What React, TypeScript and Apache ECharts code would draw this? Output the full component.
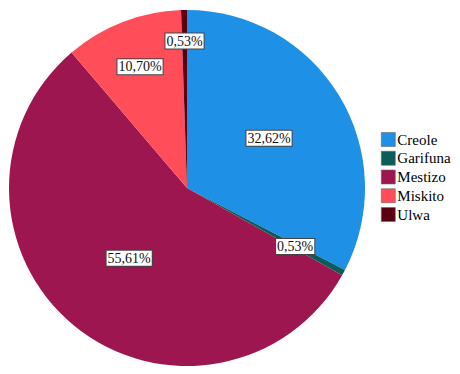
import React, { useEffect, useRef } from "react";
import * as echarts from "echarts";

const categories = ["Creole", "Garifuna", "Mestizo", "Miskito", "Ulwa"];
const counts = [61, 1, 104, 20, 1];
const percentLabels = ["32,62%", "0,53%", "55,61%", "10,70%", "0,53%"];
const colors = ["#1E90E6", "#0B5C5A", "#9E1650", "#FF4D5A", "#5A0010"];
// distance of each label box from pie centre (px)
const labelDist = [93, 120, 88, 127, 144];

const CENTER: [number, number] = [187, 188];
const RADIUS = 178;
const FONT = "Liberation Serif";

export default function App() {
  const ref = useRef<HTMLDivElement>(null);
  useEffect(() => {
    document.body.style.margin = "0";
    const chart = echarts.init(ref.current!, null, { renderer: "svg" });
    const data = categories.map((name, i) => ({
      name,
      value: counts[i],
      itemStyle: { color: colors[i] },
    }));
    const labelSeries = categories.map((_, k) => ({
      type: "pie",
      center: CENTER,
      radius: [0, labelDist[k] * 2],
      startAngle: 90,
      clockwise: true,
      silent: true,
      avoidLabelOverlap: false,
      emphasis: { disabled: true },
      itemStyle: { color: "transparent", borderWidth: 0 },
      labelLine: { show: false },
      data: categories.map((name, i) => ({
        name,
        value: counts[i],
        itemStyle: { color: "transparent" },
        label: {
          show: i === k,
          position: "inside",
          formatter: percentLabels[i],
          fontFamily: FONT,
          fontSize: 14,
          color: "#111",
          backgroundColor: "#fff",
          borderColor: "#444",
          borderWidth: 1,
          padding: [1, 1, 0, 1],
        },
      })),
    }));
    chart.setOption({
      animation: false,
      backgroundColor: "#fff",
      textStyle: { fontFamily: FONT },
      legend: {
        orient: "vertical",
        left: 381,
        top: 132,
        padding: 0,
        icon: "rect",
        itemWidth: 14,
        itemHeight: 14,
        itemGap: 3.75,
        data: categories,
        textStyle: {
          fontFamily: FONT,
          fontSize: 15,
          lineHeight: 14,
          color: "#000",
          padding: [0, 0, 0, -3],
        },
        itemStyle: { borderColor: "#666", borderWidth: 0.6 },
        selectedMode: false,
      },
      series: [
        {
          type: "pie",
          center: CENTER,
          radius: [0, RADIUS],
          startAngle: 90,
          clockwise: true,
          avoidLabelOverlap: false,
          label: { show: false },
          labelLine: { show: false },
          emphasis: { disabled: true },
          itemStyle: { borderWidth: 0 },
          data,
        },
        ...labelSeries,
      ],
    });
    return () => chart.dispose();
  }, []);
  return <div ref={ref} style={{ width: 460, height: 374 }} />;
}
